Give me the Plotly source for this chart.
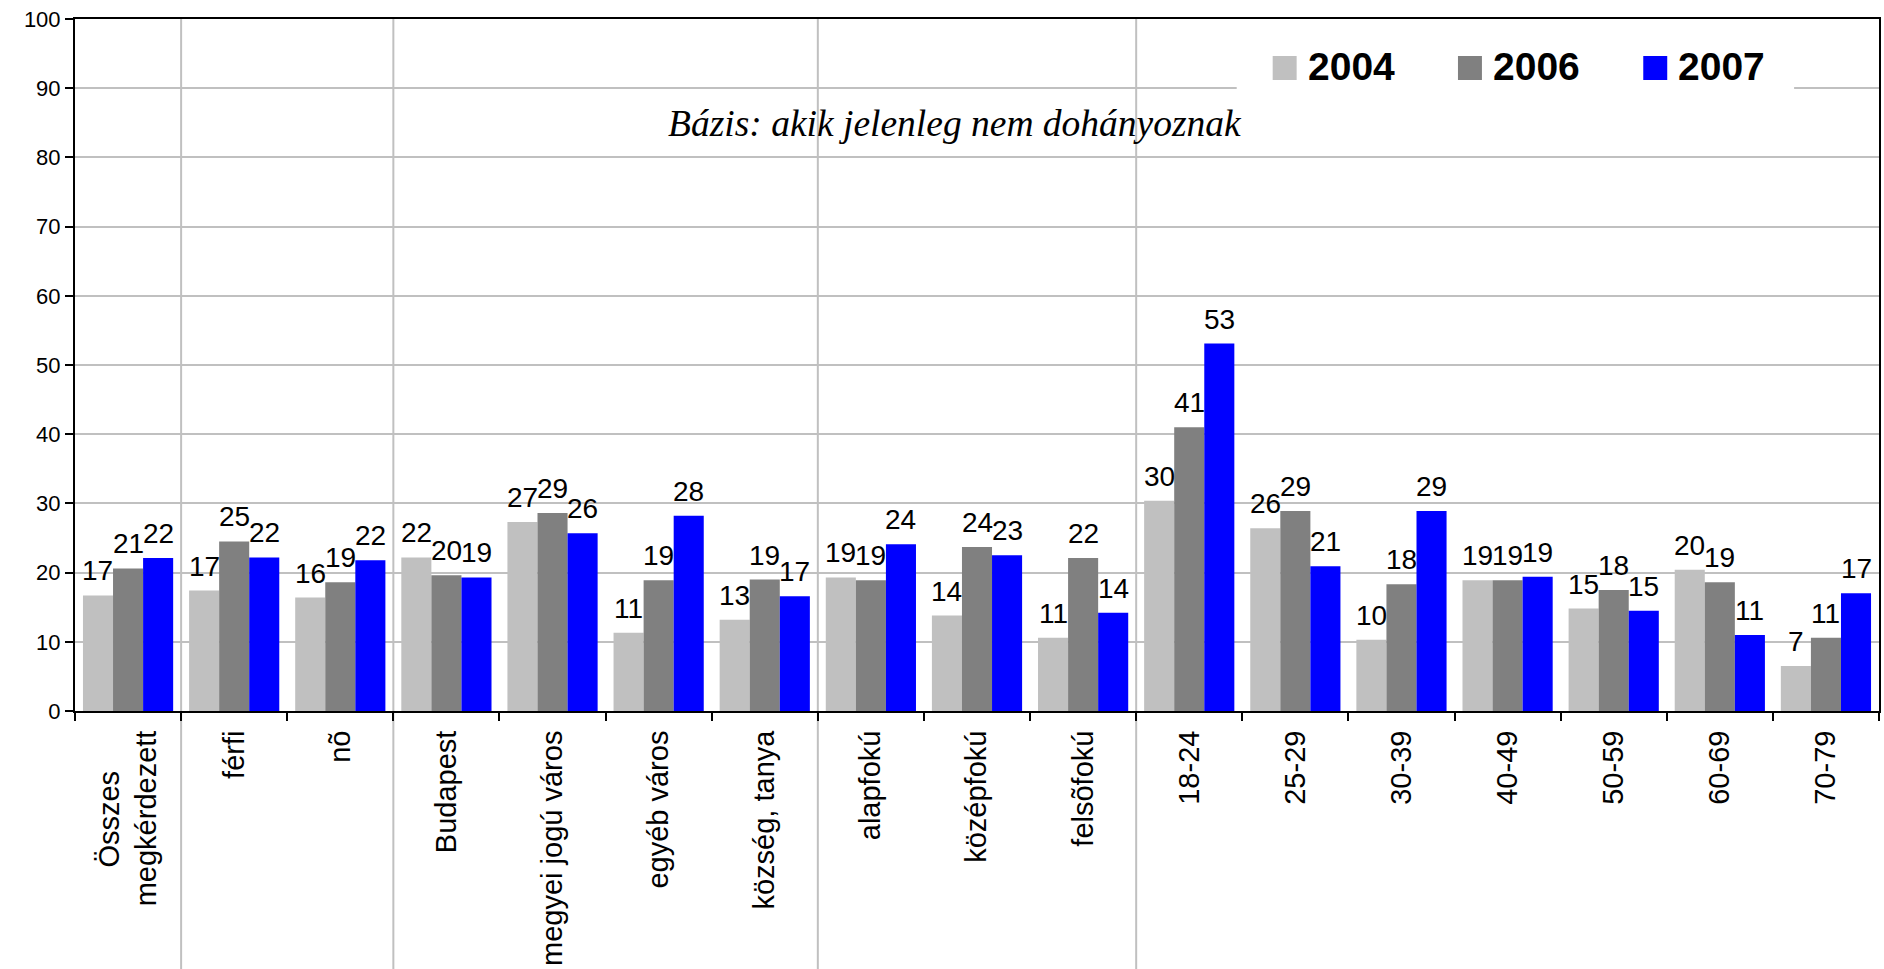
import math
import plotly.graph_objects as go

# ---------------- data ----------------
categories = ["Összes<br>megkérdezett", "férfi", "nõ", "Budapest", "megyei jogú város",
              "egyéb város", "község, tanya", "alapfokú", "középfokú", "felsõfokú",
              "18-24", "25-29", "30-39", "40-49", "50-59", "60-69", "70-79"]
series_names = ["2004", "2006", "2007"]
v2004 = [16.7, 17.4, 16.4, 22.2, 27.3, 11.3, 13.2, 19.3, 13.8, 10.6, 30.4, 26.4, 10.3, 18.9, 14.8, 20.4, 6.5]
v2006 = [20.6, 24.5, 18.6, 19.6, 28.6, 18.9, 19.0, 18.9, 23.7, 22.1, 41.0, 28.9, 18.3, 18.9, 17.5, 18.6, 10.6]
v2007 = [22.1, 22.2, 21.8, 19.3, 25.7, 28.2, 16.6, 24.1, 22.5, 14.2, 53.1, 20.9, 28.9, 19.4, 14.5, 11.0, 17.0]
group_sizes = [1, 2, 4, 3, 7]
subtitle = "Bázis: akik jelenleg nem dohányoznak"
y_ticks = list(range(0, 101, 10))

# ---------------- style ----------------
colors = ["#C0C0C0", "#808080", "#0000FF"]
FONT = "Liberation Sans, Arial, sans-serif"
SERIF = "Liberation Serif, Times New Roman, serif"
BARGAP = 0.15
GRID = "#C0C0C0"
W, H = 1884, 969
ML, MR, MT, MB = 75, 3, 19, 258
PW, PH = W - ML - MR, H - MT - MB


def px_x(p):  # pixel -> paper x
    return (p - ML) / PW


def px_y(p):  # pixel (from top) -> paper y
    return (H - MB - p) / PH


series = [v2004, v2006, v2007]
# pad first line of the two-line label so that it is centred like in the original
cat_display = [c.replace("Összes<br>", "Összes" + "\u00a0" * 5 + "<br>") for c in categories]

fig = go.Figure()
for name, vals, col in zip(series_names, series, colors):
    fig.add_trace(go.Bar(x=cat_display, y=vals, name=name, showlegend=False,
                         marker=dict(color=col, line=dict(width=0))))

# data labels
n = len(series)
w = (1 - BARGAP) / n
for k, vals in enumerate(series):
    off = (k - (n - 1) / 2) * w
    for i, v in enumerate(vals):
        fig.add_annotation(x=i + off, y=v, xref="x", yref="y", text=str(int(math.floor(v + 0.5))),
                           showarrow=False, yanchor="bottom", xanchor="center", yshift=7,
                           font=dict(family=FONT, size=28, color="black"))

# group separators
b = 0
for s in group_sizes[:-1]:
    b += s
    fig.add_shape(type="line", xref="x", yref="paper", x0=b - 0.5, x1=b - 0.5, y0=-0.4, y1=1,
                  line=dict(color=GRID, width=2), layer="below")

# subtitle
fig.add_annotation(text=subtitle, xref="paper", yref="paper", x=px_x(956), y=px_y(123),
                   xanchor="center", yanchor="middle", showarrow=False,
                   font=dict(family=SERIF, size=37.5, color="black", style="italic"))

# legend (white box, swatches, labels)
fig.add_shape(type="rect", xref="paper", yref="paper", x0=px_x(1238), x1=px_x(1796),
              y0=px_y(95), y1=px_y(38), fillcolor="white", line=dict(width=0), layer="above")
SW, LX0, LSTEP, LY = 24, 1274, 185.5, 68
for k, (name, col) in enumerate(zip(series_names, colors)):
    x0 = LX0 + k * LSTEP
    fig.add_shape(type="rect", xref="paper", yref="paper", x0=px_x(x0), x1=px_x(x0 + SW),
                  y0=px_y(LY + SW / 2), y1=px_y(LY - SW / 2), fillcolor=col, line=dict(width=0),
                  layer="above")
    fig.add_annotation(text=f"<b>{name}</b>", xref="paper", yref="paper", x=px_x(x0 + SW + 9),
                       y=px_y(LY - 1.5), xanchor="left", yanchor="middle", showarrow=False,
                       font=dict(family=FONT, size=39, color="black"))

fig.update_layout(
    width=W, height=H,
    margin=dict(l=ML, r=MR, t=MT, b=MB),
    paper_bgcolor="white", plot_bgcolor="white",
    barmode="group", bargap=BARGAP, bargroupgap=0,
    font=dict(family=FONT, color="black"),
    showlegend=False,
    xaxis=dict(type="category", tickson="boundaries", ticks="outside", ticklen=8, tickwidth=2,
               tickcolor="black", showline=True, linecolor="black", linewidth=2, mirror=True,
               showgrid=False, tickangle=-90, tickfont=dict(family=FONT, size=29, color="black"),
               ticklabelstandoff=6),
    yaxis=dict(range=[0, 100], tickvals=y_ticks, ticks="outside", ticklen=8, tickwidth=2,
               tickcolor="black", showline=True, linecolor="black", linewidth=2, mirror=True,
               showgrid=True, gridcolor=GRID, gridwidth=2, zeroline=False,
               tickfont=dict(family=FONT, size=22, color="black")),
)

fig.write_html("out.html", config={"displayModeBar": False},
               post_script="document.body.style.margin='0px';document.body.style.overflow='hidden';")
